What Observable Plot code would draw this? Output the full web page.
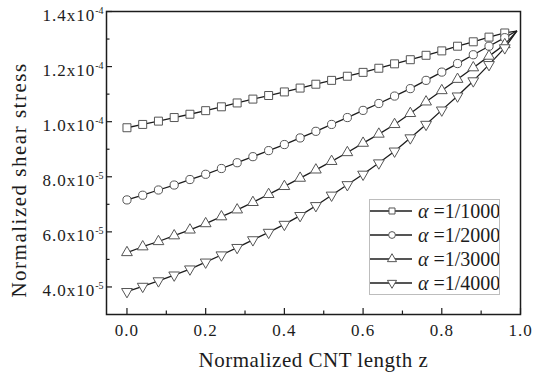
<!DOCTYPE html>
<html><head><meta charset="utf-8">
<script src="https://cdn.jsdelivr.net/npm/d3@7"></script>
<script src="https://cdn.jsdelivr.net/npm/@observablehq/plot@0.6"></script>
<style>
body{margin:0;background:#fff;}
#wrap{position:relative;width:533px;height:376px;}
</style></head><body><div id="wrap"></div>
<script>
// Normalized CNT length z (markers every 0.04, last point without marker)
const z = [0, 0.04, 0.08, 0.12, 0.16, 0.20, 0.24, 0.28, 0.32, 0.36, 0.40, 0.44, 0.48, 0.52, 0.56, 0.60, 0.64, 0.68, 0.72, 0.76, 0.80, 0.84, 0.88, 0.92, 0.96, 0.99];
// Normalized shear stress, in units of 1e-5
const s1000 = [9.78, 9.90, 10.02, 10.15, 10.27, 10.40, 10.54, 10.68, 10.82, 10.95, 11.08, 11.22, 11.36, 11.50, 11.65, 11.79, 11.94, 12.10, 12.25, 12.41, 12.57, 12.74, 12.90, 13.07, 13.22, 13.29];
const s2000 = [7.16, 7.33, 7.52, 7.70, 7.90, 8.09, 8.30, 8.51, 8.73, 8.95, 9.17, 9.41, 9.65, 9.90, 10.15, 10.41, 10.66, 10.93, 11.20, 11.50, 11.80, 12.11, 12.43, 12.74, 13.05, 13.29];
const s3000 = [5.25, 5.46, 5.65, 5.86, 6.07, 6.30, 6.55, 6.80, 7.07, 7.36, 7.65, 7.95, 8.25, 8.56, 8.88, 9.22, 9.55, 9.90, 10.30, 10.72, 11.13, 11.54, 11.96, 12.38, 12.80, 13.28];
const s4000 = [3.83, 4.02, 4.22, 4.43, 4.65, 4.90, 5.16, 5.43, 5.71, 5.98, 6.27, 6.59, 6.95, 7.33, 7.71, 8.09, 8.50, 8.93, 9.41, 9.90, 10.42, 10.93, 11.48, 12.07, 12.68, 13.28];
const seriesNames = ["1/1000", "1/2000", "1/3000", "1/4000"];
const seriesSymbols = ["square", "circle", "triangle", "triangle"];
const seriesRotate = [0, 0, 0, 180];
const seriesR = [4.5, 4.1, 4.0, 4.0];
const xMajor = [0, 0.2, 0.4, 0.6, 0.8, 1.0];
const xMinor = [0.1, 0.3, 0.5, 0.7, 0.9];
const yMajor = [4, 6, 8, 10, 12, 14];
const yMinor = [5, 7, 9, 11, 13];
const yTickBase = ["4.0x10", "6.0x10", "8.0x10", "1.0x10", "1.2x10", "1.4x10"];
const yTickExp = ["-5", "-5", "-5", "-4", "-4", "-4"];

const W = 533, H = 376, mL = 106, mR = 13, mT = 11, mB = 62;
const plotW = W - mL - mR, plotH = H - mT - mB;
const serif = "Liberation Serif, Times New Roman, serif";

const seriesValues = [s1000, s2000, s3000, s4000];
const rows = [];
seriesValues.forEach((arr, i) => arr.forEach((v, j) => rows.push({series: seriesNames[i], z: z[j], v, marker: j < z.length - 1})));

const ink = "#1c1c1c";
const marks = [
  Plot.frame({stroke: ink, strokeWidth: 1.5}),
  Plot.tickX(xMajor, {x: d => d, insetTop: plotH - 6, stroke: ink, strokeWidth: 1.2}),
  Plot.tickX(xMinor, {x: d => d, insetTop: plotH - 3.5, stroke: ink, strokeWidth: 1.2}),
  Plot.tickY(yMajor, {y: d => d, insetRight: plotW - 6, stroke: ink, strokeWidth: 1.2}),
  Plot.tickY(yMinor, {y: d => d, insetRight: plotW - 3.5, stroke: ink, strokeWidth: 1.2}),
  Plot.axisX(xMajor, {tickSize: 0, tickPadding: 9, tickFormat: d => d.toFixed(1), label: "Normalized CNT length z", labelAnchor: "center", labelArrow: "none", labelOffset: 52, fill: ink, fontFamily: serif}),
  Plot.axisY(yMajor, {tickSize: 0, tickPadding: 3, dy: 4, tickFormat: d => yTickBase[yMajor.indexOf(d)], label: "Normalized shear stress", labelAnchor: "center", labelArrow: "none", labelOffset: 95, fill: ink, fontFamily: serif}),
  Plot.line(rows, {x: "z", y: "v", z: "series", stroke: ink, strokeWidth: 1.3})
];
seriesNames.forEach((name, i) => {
  marks.push(Plot.dot(rows.filter(d => d.series === name && d.marker), {
    x: "z", y: "v", symbol: seriesSymbols[i], r: seriesR[i], rotate: seriesRotate[i],
    fill: "white", stroke: "#555", strokeWidth: 1
  }));
});

const chart = Plot.plot({
  width: W, height: H,
  marginLeft: mL, marginRight: mR, marginTop: mT, marginBottom: mB,
  style: {fontFamily: serif, fontSize: "17px", background: "white", color: ink},
  x: {domain: [-0.052, 1.0]},
  y: {domain: [3, 14]},
  marks
});
document.getElementById("wrap").appendChild(chart);

const svg = d3.select(chart);
svg.selectAll("text").attr("font-family", serif);
svg.selectAll('g[aria-label="x-axis tick label"], g[aria-label="y-axis tick label"]')
  .attr("font-size", 17).attr("letter-spacing", 1).attr("font-family", serif);
svg.selectAll('g[aria-label="x-axis tick label"] text, g[aria-label="y-axis tick label"] text')
  .attr("font-size", 17).attr("letter-spacing", 1);
svg.selectAll('g[aria-label="x-axis label"]').attr("font-size", 21).attr("letter-spacing", 0.5);
svg.selectAll('g[aria-label="x-axis label"] text').attr("font-size", 21).attr("letter-spacing", 0.5);
svg.selectAll('g[aria-label="y-axis label"]').attr("font-size", 21).attr("letter-spacing", 1.5);
svg.selectAll('g[aria-label="y-axis label"] text').attr("font-size", 21).attr("letter-spacing", 1.5).attr("dx", -17);

// superscript exponents on y tick labels
svg.selectAll('g[aria-label="y-axis tick label"] text').each(function() {
  const t = d3.select(this);
  const idx = yTickBase.indexOf(t.text());
  if (idx < 0) return;
  t.append("tspan").attr("dy", -7).attr("font-size", 10).attr("letter-spacing", 0).text(yTickExp[idx]);
});

// legend
const leg = d3.select("#wrap").append("div")
  .style("position", "absolute").style("left", "369px").style("top", "199px")
  .style("width", "131px").style("height", "96px").style("border", "1px solid #bdbdbd")
  .style("background", "#fff").style("box-sizing", "border-box");
const lsvg = leg.append("svg").attr("width", 129).attr("height", 94).style("display", "block");
const symMap = {square: d3.symbolSquare, circle: d3.symbolCircle, triangle: d3.symbolTriangle};
seriesNames.forEach((name, i) => {
  const g = lsvg.append("g").attr("transform", `translate(0,${11 + i * 24})`);
  g.append("line").attr("x1", 0).attr("x2", 42).attr("stroke", ink).attr("stroke-width", 1.3);
  g.append("path").attr("d", d3.symbol(symMap[seriesSymbols[i]], Math.PI * 3.4 * 3.4)())
    .attr("transform", `translate(22,0) rotate(${seriesRotate[i]})`)
    .attr("fill", "white").attr("stroke", "#555");
  const t = g.append("text").attr("x", 48).attr("dy", "0.35em")
    .attr("font-family", serif).attr("font-size", 20).attr("fill", ink);
  t.append("tspan").attr("font-style", "italic").text("α");
  t.append("tspan").text(" =" + name);
});
</script></body></html>
